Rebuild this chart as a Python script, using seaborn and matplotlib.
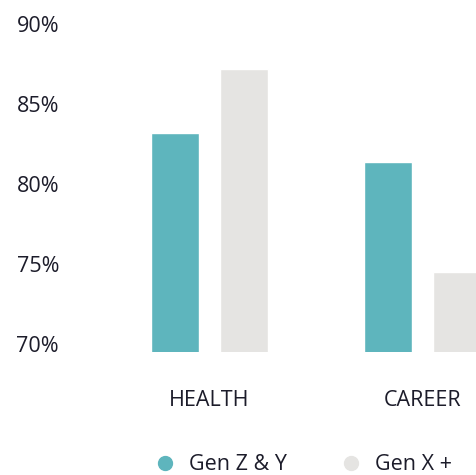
import pandas as pd
import seaborn as sns
from matplotlib import pyplot as plt
from matplotlib.lines import Line2D

categories = ["HEALTH", "CAREER"]
gen_zy = [83.7, 81.9]
gen_xplus = [87.7, 75.0]
series_names = ["Gen Z & Y", "Gen X +"]
y_ticks = [70, 75, 80, 85, 90]

TEAL = "#5eb5bd"
GREY = "#e5e4e2"
TEXT = "#1c1c2a"

df = pd.DataFrame({
    "area": categories * 2,
    "share": gen_zy + gen_xplus,
    "generation": [series_names[0]] * 2 + [series_names[1]] * 2,
})

sns.set_style("white")
plt.rcParams["font.family"] = ["Open Sans", "DejaVu Sans"]

fig = plt.figure(figsize=(4.76, 4.75), dpi=100)
# axes run past the right edge, like the cropped original
ax = fig.add_axes([65 / 476, 123 / 475, 411 / 476, 320 / 475])

sns.barplot(data=df, x="area", y="share", hue="generation",
            palette=[TEAL, GREY], width=0.648, gap=0.304,
            saturation=1, legend=False, ax=ax)

ax.set_ylim(70, 90)
ax.set_xlim(-0.678, 1.251)
ax.set_yticks(y_ticks)
ax.set_yticklabels([f"{v}%" for v in y_ticks])
for lab in ax.get_yticklabels():
    lab.set_va("baseline")
ax.tick_params(axis="y", length=0, pad=4.3, labelsize=15.5, labelcolor=TEXT)
ax.tick_params(axis="x", length=0, pad=27, labelsize=15.5, labelcolor=TEXT)
ax.set_xlabel("")
ax.set_ylabel("")
sns.despine(ax=ax, left=True, bottom=True)

handles = [Line2D([], [], marker="o", ls="", color=c, markersize=10)
           for c in [TEAL, GREY]]
fig.legend(handles, series_names, loc="center", ncol=2,
           bbox_to_anchor=(303 / 476, 10 / 475), frameon=False,
           fontsize=15.5, labelcolor=TEXT, handlelength=1.0,
           handletextpad=0.6, columnspacing=2.5)

plt.savefig("out.png", dpi=100)
plt.close()
